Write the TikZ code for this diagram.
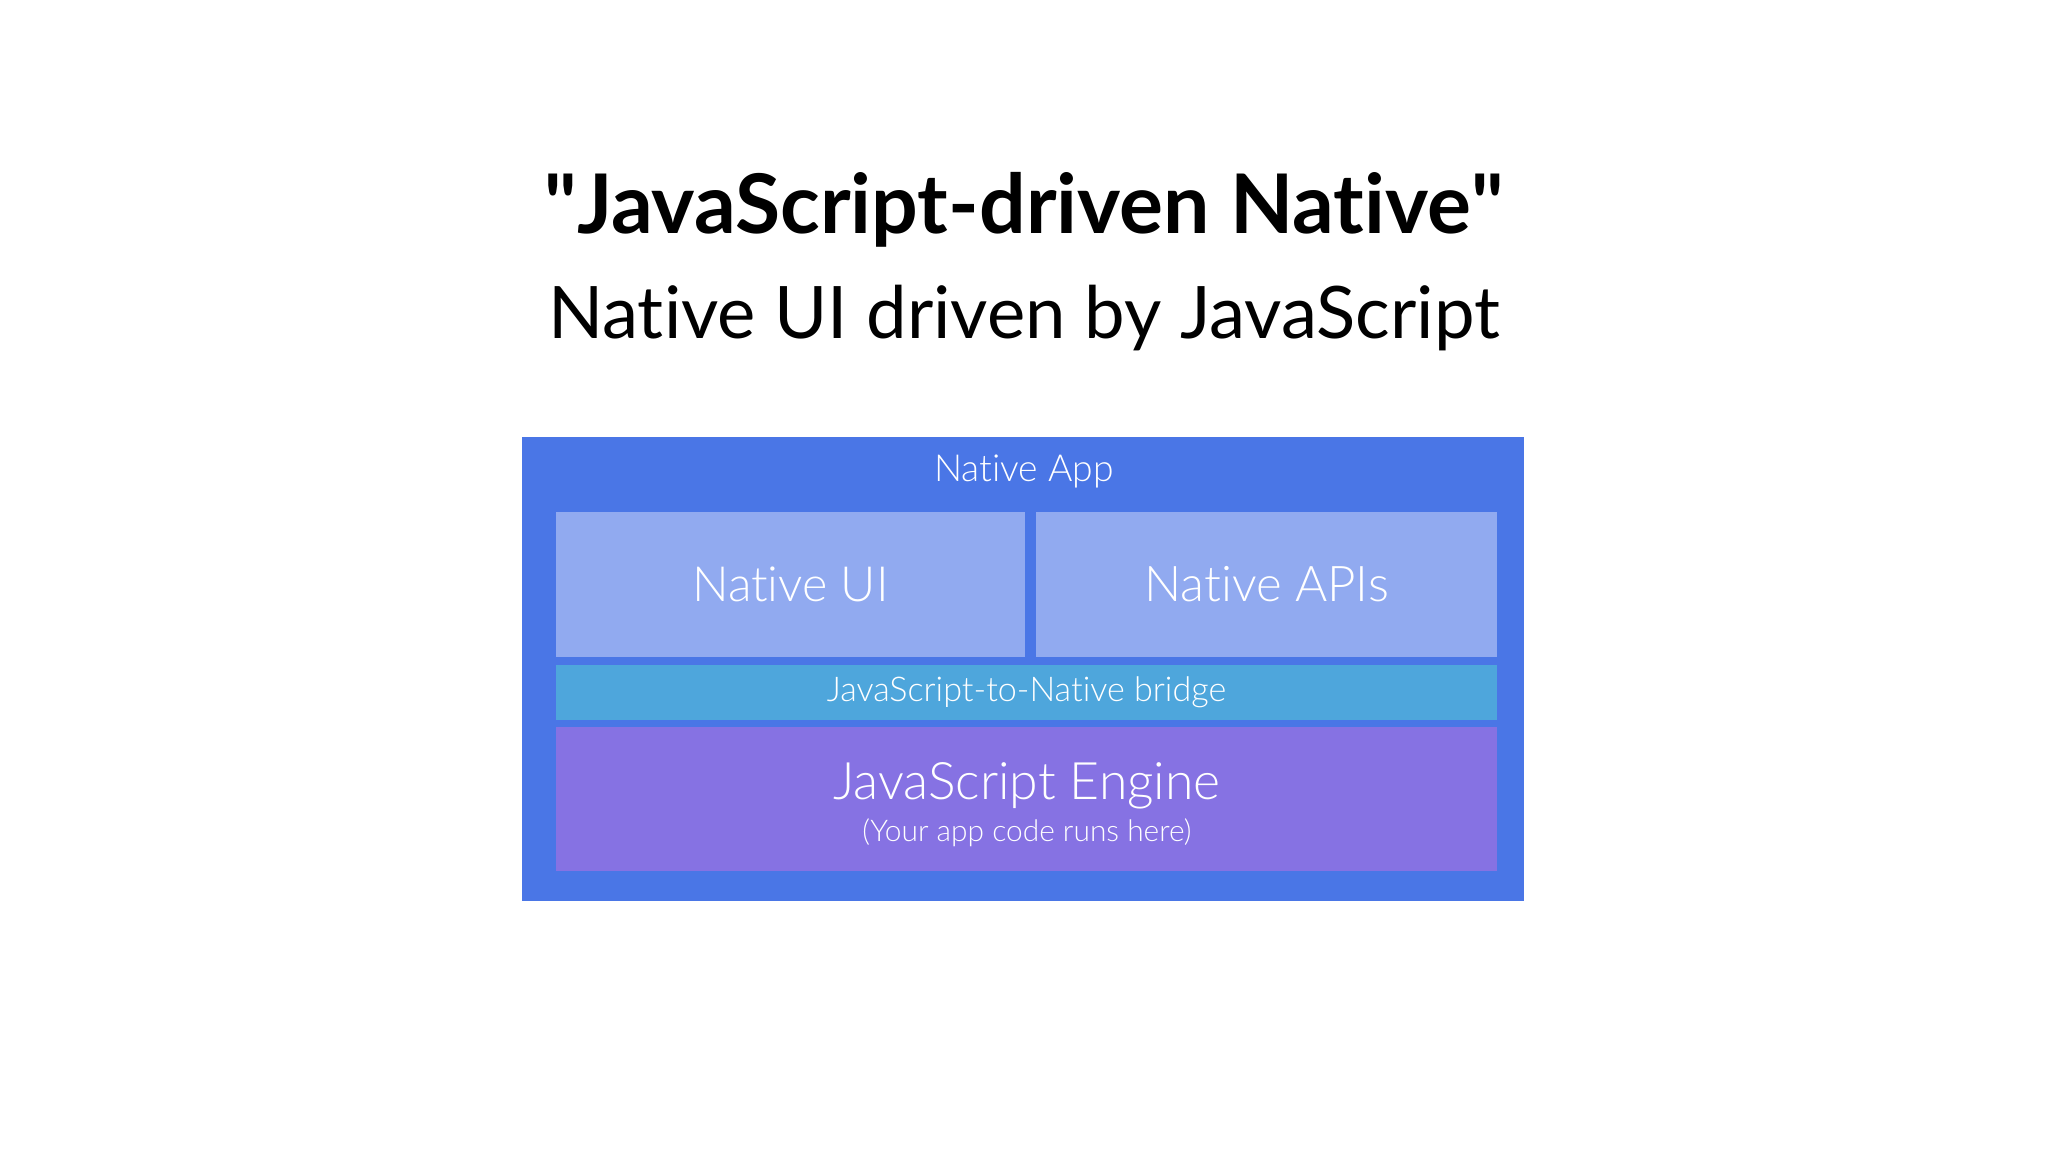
\documentclass[tikz,border=0pt]{standalone}
\usepackage{fontspec}
\usepackage{tikz}
\setmainfont{Lato}[Ligatures={TeX,NoCommon}]
\newfontfamily\thinfont{Lato Light}[Ligatures={TeX,NoCommon}]
\usetikzlibrary{calc}
\definecolor{appblue}{rgb}{0.290,0.463,0.902}
\definecolor{uiblue}{rgb}{0.569,0.667,0.941}
\definecolor{bridgeblue}{rgb}{0.306,0.651,0.863}
\definecolor{enginepurple}{rgb}{0.525,0.447,0.890}
\tikzset{layer/.style={inner sep=0pt,outer sep=0pt,draw=none}}
\tikzset{every node/.style={text=white}}

\begin{document}
\begin{tikzpicture}[line cap=round,line join=round,x=0.01cm,y=-0.01cm]
            \useasboundingbox (0,0) rectangle (2048,1152);
            \node [text=black,font=\bfseries\fontsize{23.4}{28}\selectfont] (title) at (1024,210) {\textquotedbl JavaScript-driven Native\textquotedbl};
            \node [text=black,font=\fontsize{20.6}{25}\selectfont] (subtitle) at (1024,318) {Native UI driven by JavaScript};
            \node [layer,fill=appblue,minimum width=10.02cm,minimum height=4.64cm] (app) at (1023,669) {};
            \node [font=\thinfont\fontsize{10.6}{13}\selectfont] (applabel) at (1024,471) {Native App};
            \node [layer,fill=uiblue,minimum width=4.69cm,minimum height=1.45cm,font=\thinfont\fontsize{13.8}{17}\selectfont] (ui) at (790.5,584.5) {Native UI};
            \node [layer,fill=uiblue,minimum width=4.61cm,minimum height=1.45cm,font=\thinfont\fontsize{14}{17}\selectfont] (apis) at (1266.5,584.5) {Native APIs};
            \node [layer,fill=bridgeblue,minimum width=9.41cm,minimum height=0.55cm,font=\thinfont\fontsize{9.7}{12}\selectfont] (bridge) at (1026.5,692.5) {JavaScript-to-Native bridge};
            \node [layer,fill=enginepurple,minimum width=9.41cm,minimum height=1.44cm] (engine) at (1026.5,799) {};
            \node [font=\thinfont\fontsize{14.7}{18}\selectfont] (enginelabel) at (1027,786) {JavaScript Engine};
            \node [font=\thinfont\fontsize{8.5}{10}\selectfont] (enginenote) at (1027,833) {(Your app code runs here)};
\end{tikzpicture}
\end{document}
